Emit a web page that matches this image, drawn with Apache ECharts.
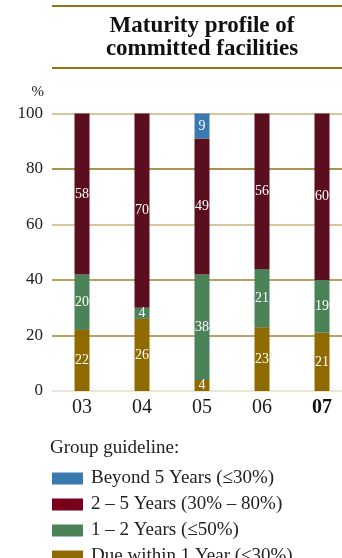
<!DOCTYPE html>
<html>
<head>
<meta charset="utf-8">
<script src="https://cdn.jsdelivr.net/npm/echarts@6/dist/echarts.min.js"></script>
<style>
  html, body { margin: 0; padding: 0; background: #fff; }
  #chart { width: 342px; height: 558px; }
</style>
</head>
<body>
<div id="chart"></div>
<script>
// Financial years on the x axis
const years = ['03', '04', '05', '06', '07'];

// Share of committed facilities by maturity band (%)
const dueWithin1Year = [22, 26, 4, 23, 21];
const oneToTwoYears = [20, 4, 38, 21, 19];
const twoToFiveYears = [58, 70, 49, 56, 60];
const beyondFiveYears = [null, null, 9, null, null];

const yTicks = [0, 20, 40, 60, 80, 100];

const legendNames = [
  'Beyond 5 Years (\u226430%)',
  '2 \u2013 5 Years (30% \u2013 80%)',
  '1 \u2013 2 Years (\u226450%)',
  'Due within 1 Year (\u226430%)'
];
const legendColors = ['#3a78b0', '#78001a', '#4b8258', '#8f6a00'];

const SERIF = '"Liberation Serif", "DejaVu Serif", serif';

const chart = echarts.init(document.getElementById('chart'), null, { renderer: 'canvas' });

const segLabel = {
  show: true,
  position: 'inside',
  color: '#ffffff',
  fontFamily: SERIF,
  fontSize: 14,
  formatter: p => (p.value == null ? '' : p.value)
};

function barSeries(name, data, color) {
  return {
    name: name,
    type: 'bar',
    stack: 'total',
    barWidth: 15,
    data: data,
    itemStyle: { color: color },
    label: segLabel,
    emphasis: { disabled: true }
  };
}

// one legend row per band, stacked down the page
const legends = legendNames.map((name, i) => ({
  orient: 'vertical',
  left: 52,
  top: 469 + i * 26,
  padding: 0,
  itemWidth: 31,
  itemHeight: 12,
  icon: 'rect',
  selectedMode: false,
  textStyle: { fontFamily: SERIF, fontSize: 19, lineHeight: 12, color: '#222222', padding: [0, 0, 0, 3] },
  data: [{ name: name, itemStyle: { color: legendColors[i] } }]
}));

chart.setOption({
  animation: false,
  backgroundColor: '#ffffff',
  title: {
    text: 'Maturity profile of\ncommitted facilities',
    left: 202,
    top: 15,
    textAlign: 'center',
    padding: 0,
    textStyle: {
      fontFamily: SERIF,
      fontSize: 23,
      lineHeight: 23,
      fontWeight: 'bold',
      color: '#111111'
    }
  },
  graphic: [
    { type: 'line', shape: { x1: 52, y1: 6, x2: 342, y2: 6 }, style: { stroke: '#98730f', lineWidth: 2 } },
    { type: 'line', shape: { x1: 52, y1: 68, x2: 342, y2: 68 }, style: { stroke: '#98730f', lineWidth: 2 } },
    { type: 'text', x: 44, y: 92, style: { text: '%', textAlign: 'right', textVerticalAlign: 'middle', font: '15px ' + SERIF, fill: '#222222' } },
    { type: 'text', x: 50, y: 448, style: { text: 'Group guideline:', textAlign: 'left', textVerticalAlign: 'middle', font: '19px ' + SERIF, fill: '#222222' } }
  ],
  legend: legends,
  grid: { left: 52, width: 300, top: 113.5, height: 277.5, outerBoundsMode: 'none', containLabel: false },
  xAxis: {
    type: 'category',
    data: years,
    axisLine: { show: false },
    axisTick: { show: false },
    axisLabel: {
      interval: 0,
      margin: 7,
      fontFamily: SERIF,
      fontSize: 20,
      color: '#1a1a1a',
      formatter: v => (v === '07' ? '{b|' + v + '}' : v),
      rich: { b: { fontFamily: SERIF, fontSize: 20, fontWeight: 'bold', color: '#111111' } }
    }
  },
  yAxis: {
    type: 'value',
    min: yTicks[0],
    max: yTicks[yTicks.length - 1],
    interval: 20,
    axisLine: { show: false },
    axisTick: { show: false },
    axisLabel: { margin: 9, fontFamily: SERIF, fontSize: 17, color: '#222222' },
    splitLine: {
      lineStyle: {
        width: 1.5,
        color: ['#e6dcc2', '#a3822e', '#a3822e', '#c9b37a', '#8f6e18', '#c9b37a']
      }
    }
  },
  series: [
    barSeries(legendNames[3], dueWithin1Year, '#8f6a00'),
    barSeries(legendNames[2], oneToTwoYears, '#4b8258'),
    barSeries(legendNames[1], twoToFiveYears, '#5b0f1e'),
    barSeries(legendNames[0], beyondFiveYears, '#3a78b0')
  ]
});
</script>
</body>
</html>
